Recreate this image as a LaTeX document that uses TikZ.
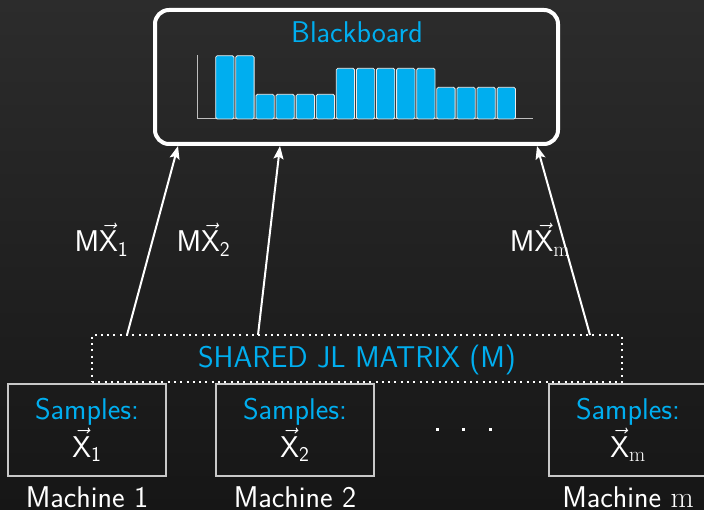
\RequirePackage{fix-cm}
\documentclass[tikz,border=0pt]{standalone}
\usetikzlibrary{arrows.meta}
\renewcommand{\familydefault}{\sfdefault}
\DeclareMathSizes{30}{30}{21}{15}
\definecolor{bgtop}{RGB}{44,44,44}
\definecolor{bgbot}{RGB}{22,22,22}
\definecolor{jlblue}{RGB}{0,174,239}
\definecolor{boxgray}{RGB}{200,200,200}
\definecolor{axisgray}{RGB}{190,190,190}
\newcommand{\vX}{\vec{\mathsf{X}}}
\begin{document}
\begin{tikzpicture}[x=1pt,y=-1pt,
  txt/.style={font=\fontsize{30}{36}\selectfont, inner sep=0pt, anchor=base, text=white},
  bluetxt/.style={txt, text=jlblue},
  board/.style={draw=white, line width=4pt, rounded corners=14pt, minimum width=403pt, minimum height=134pt, inner sep=0pt},
  jlbox/.style={draw=white, line width=2pt, dash pattern=on 2pt off 4.3pt, minimum width=530pt, minimum height=47pt, inner sep=0pt},
  machbox/.style={draw=boxgray, line width=1.5pt, minimum width=158pt, minimum height=92pt, inner sep=0pt},
  bar/.style={fill=jlblue, draw=white!85!gray, line width=0.8pt, rounded corners=1.5pt},
  conn/.style={draw=white, line width=2pt, -{Stealth[length=13pt,width=10pt,inset=2.5pt]}},
  dotmark/.style={fill=white, minimum size=3pt, inner sep=0pt}
]
\useasboundingbox (0,0) rectangle (704,510);
\fill[top color=bgtop, bottom color=bgbot] (0,0) rectangle (704,510);
\clip (0,0) rectangle (704,510);

% blackboard
\node[board] (bb) at (356.5,77) {};
\node[bluetxt] (bbt) at (357,43) {Blackboard};
\draw[axisgray, line width=1pt] (197,55) -- (197,119) -- (533,119);
\foreach \h [count=\i from 0] in {55.7,55.7,94.3,94.3,94.3,94.3,68.3,68.3,68.3,68.3,68.3,87.3,87.3,87.3,87.3}{
  \draw[bar] ({215.7+20.1*\i},119) rectangle ({234+20.1*\i},\h);
}

% shared JL matrix
\node[jlbox] (jl) at (357,358.5) {};
\node[bluetxt] (jlt) at (357,367) {SHARED JL MATRIX (M)};

% machines
\node[machbox] (m1) at (87,430) {};
\node[machbox] (m2) at (295,430) {};
\node[machbox] (m3) at (628,430) {};
\node[bluetxt] (s1) at (87,419) {Samples:};
\node[bluetxt] (s2) at (295,419) {Samples:};
\node[bluetxt] (s3) at (628,419) {Samples:};
\node[txt] (x1) at (87,457) {$\vX_{\mathsf{1}}$};
\node[txt] (x2) at (295,457) {$\vX_{\mathsf{2}}$};
\node[txt] (x3) at (628,457) {$\vX_{\mathrm{m}}$};
\node[txt] (n1) at (87,507) {Machine 1};
\node[txt] (n2) at (295,507) {Machine 2};
\node[txt] (n3) at (628,507) {Machine $\mathrm{m}$};

% dots
\node[dotmark] (d1) at (437,429) {};
\node[dotmark] (d2) at (463,429) {};
\node[dotmark] (d3) at (490,429) {};

% connectors
\coordinate (a1) at (127,335);
\coordinate (a2) at (258,335);
\coordinate (a3) at (590,335);
\coordinate (b1) at (178,146);
\coordinate (b2) at (280,146);
\coordinate (b3) at (537,146);
\draw[conn] (a1) -- (b1);
\draw[conn] (a2) -- (b2);
\draw[conn] (a3) -- (b3);
\node[txt] (l1) at (101.5,252) {M$\vX_{\mathsf{1}}$};
\node[txt] (l2) at (203.5,252) {M$\vX_{\mathsf{2}}$};
\node[txt] (l3) at (540,252) {M$\vX_{\mathrm{m}}$};
\end{tikzpicture}
\end{document}
